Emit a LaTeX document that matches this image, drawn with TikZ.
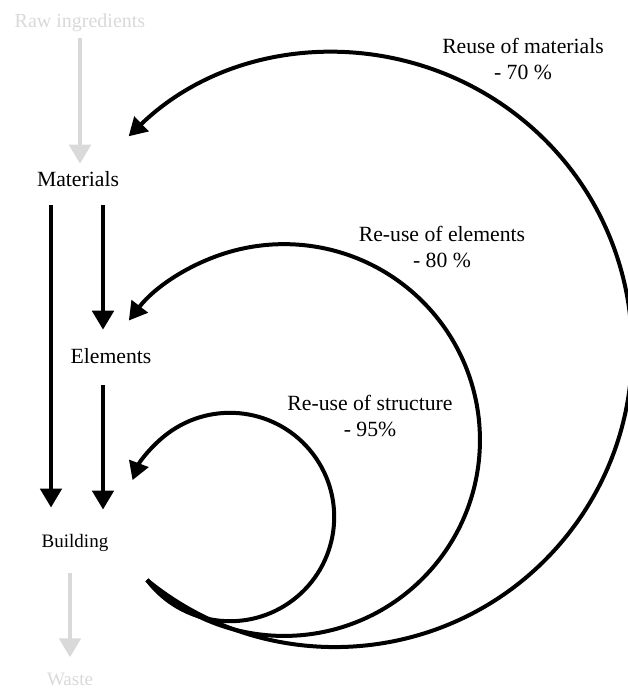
\documentclass[tikz,border=0pt]{standalone}
\usepackage{fontspec}
\setmainfont{Liberation Serif}
\usetikzlibrary{arrows.meta,calc}
\definecolor{faded}{rgb}{0.85,0.85,0.85}
\tikzset{
  lbl/.style={inner sep=0pt, anchor=base, font=\fontsize{21.7}{27}\selectfont},
  smalllbl/.style={lbl, font=\fontsize{19}{23}\selectfont},
  flow/.style={line width=4.7pt, -{Triangle[length=19pt,width=21pt]}},
  paleflow/.style={flow, draw=faded},
  loopback/.style={line width=4pt, -{Triangle[length=18pt,width=20pt]}},
  note/.style={align=center, inner sep=0pt, font=\fontsize{21.7}{26.5}\selectfont}
}

\begin{document}
\begin{tikzpicture}[x=1pt,y=-1pt]
    \useasboundingbox (0,0) rectangle (627,690);

    % stages
    \node[lbl, text=faded, font=\fontsize{20}{24}\selectfont] (raw) at (80,28) {Raw ingredients};
    \node[lbl] (mat) at (78,186) {Materials};
    \node[lbl] (ele) at (111,363) {Elements};
    \node[smalllbl] (bld) at (75,547) {Building};
    \node[smalllbl, text=faded] (wst) at (70,685) {Waste};

    % columns of the straight arrows
    \coordinate (lcol) at (51,0);
    \coordinate (rcol) at (103,0);

    % straight flows
    \draw[paleflow, shorten <=5pt, shorten >=7pt] (raw.south) -- (raw.south |- mat.north);
    \draw[flow, shorten <=19pt, shorten >=26pt] (mat.south -| lcol) -- (bld.north -| lcol);
    \draw[flow, shorten <=19pt, shorten >=18pt] (mat.south -| rcol) -- (ele.north -| rcol);
    \draw[flow, shorten <=22pt, shorten >=24pt] (ele.south -| rcol) -- (bld.north -| rcol);
    \draw[paleflow, shorten <=22pt, shorten >=15pt] (bld.south -| wst) -- (wst.north);

    % loops back from the building
    \coordinate (ret) at (147,580);
    \draw[loopback] (ret) arc[start angle=129.26, end angle=-134, radius=297.06];
    \draw[loopback] (ret) arc[start angle=134.4, end angle=-142.4, radius=195.9];
    \draw[loopback] (ret) arc[start angle=142.8, end angle=-159.3, radius=104.2];

    % loop labels
    \node[note] (lmat) at (523,59) {Reuse of materials\\- 70 \%};
    \node[note] (lele) at (442,247) {Re-use of elements\\- 80 \%};
    \node[note] (lstr) at (370,416) {Re-use of structure\\- 95\%};
\end{tikzpicture}
\end{document}
